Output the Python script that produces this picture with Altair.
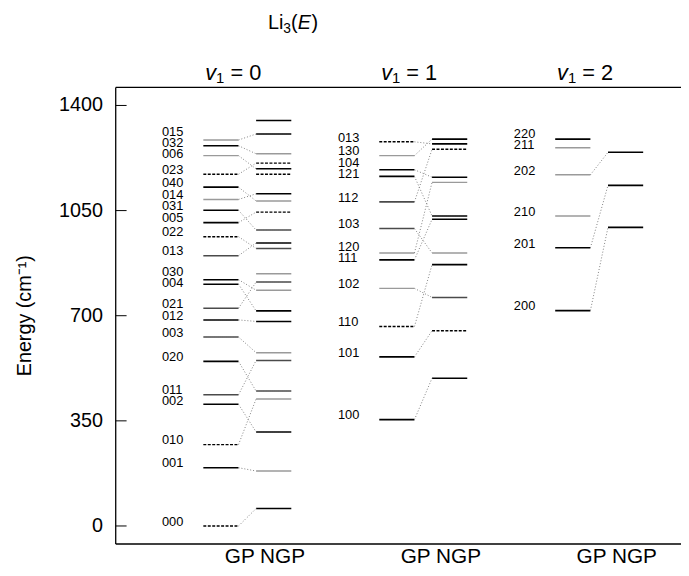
import altair as alt
import pandas as pd

# ---------------- data ----------------
v1_values = [0, 1, 2]

# v1 = 0
gp0_labels = ["000", "001", "010", "002", "011", "020", "003", "012", "021", "004", "030",
              "013", "022", "005", "031", "014", "040", "023", "006", "032", "015"]
gp0_energy = [0, 194, 271, 405, 437, 548, 629, 686, 725, 805, 820,
              900, 963, 1010, 1051, 1087, 1128, 1171, 1233, 1266, 1285]
gp0_class = ["d", "k", "d", "k", "m", "k", "m", "k", "m", "k", "k",
             "m", "d", "k", "k", "g", "k", "d", "g", "k", "g"]
gp0_link = [58, 183, 423, 313, 551, 449, 577, 681, 812, 716, 785,
            942, 924, 1045, 985, 1106, 1082, 1208, 1189, 1239, 1305]
ngp0_energy = [58, 183, 313, 423, 449, 551, 577, 681, 716, 785, 812, 840,
               924, 942, 985, 1045, 1082, 1106, 1171, 1189, 1208, 1239, 1305, 1350]
ngp0_class = ["k", "g", "k", "g", "m", "m", "g", "k", "k", "g", "m", "g",
              "m", "k", "m", "d", "g", "k", "d", "k", "d", "g", "k", "k"]

# v1 = 1
gp1_labels = ["100", "101", "110", "102", "111", "120", "103", "112", "121", "104", "130", "013"]
gp1_energy = [354, 563, 664, 791, 886, 909, 990, 1079, 1164, 1186, 1233, 1279]
gp1_class = ["k", "k", "d", "g", "k", "g", "m", "m", "k", "k", "g", "d"]
gp1_link = [492, 650, 870, 761, 1021, 1144, 909, 1254, 1032, 1161, 1288, 1272]
ngp1_energy = [492, 650, 761, 870, 909, 1021, 1032, 1144, 1161, 1254, 1272, 1288]
ngp1_class = ["k", "d", "m", "k", "g", "k", "k", "g", "k", "d", "k", "k"]

# v1 = 2
gp2_labels = ["200", "201", "210", "202", "211", "220"]
gp2_energy = [717, 926, 1032, 1169, 1259, 1288]
gp2_class = ["k", "k", "g", "g", "g", "k"]
gp2_link = [994, 1134, None, 1244, None, None]
ngp2_energy = [994, 1134, 1244]
ngp2_class = ["k", "k", "k"]

y_ticks = [0, 350, 700, 1050, 1400]
y_title = "Energy (cm⁻¹)"
side_text = "GP NGP"

# ---------------- layout ----------------
FONT = "Liberation Sans"
W, H = 572, 462
X_DOMAIN = [-0.598, 2.615]
Y_DOMAIN = [-60, 1460]
GP_OFF, NGP_OFF, HALF = 0.0, 0.3, 0.1
LABEL_OFF = -0.335
PX_PER_E = H / (Y_DOMAIN[1] - Y_DOMAIN[0])

columns = [
    (0, gp0_labels, gp0_energy, gp0_class, gp0_link, ngp0_energy, ngp0_class),
    (1, gp1_labels, gp1_energy, gp1_class, gp1_link, ngp1_energy, ngp1_class),
    (2, gp2_labels, gp2_energy, gp2_class, gp2_link, ngp2_energy, ngp2_class),
]


def spread(energies, shift_px=4.3, gap_px=11.0):
    """Place labels near their level, pushing apart ones that would overlap."""
    shift = shift_px / PX_PER_E
    gap = gap_px / PX_PER_E
    order = sorted(range(len(energies)), key=lambda i: energies[i])
    desired = [energies[i] + shift for i in order]
    clusters = [[k] for k in range(len(desired))]

    def base(cl):
        return sum(desired[k] - gap * j for j, k in enumerate(cl)) / len(cl)

    changed = True
    while changed:
        changed = False
        for c in range(len(clusters) - 1):
            a, b = clusters[c], clusters[c + 1]
            if base(a) + gap * len(a) > base(b) + 1e-9:
                clusters[c] = a + b
                del clusters[c + 1]
                changed = True
                break
    out = [0.0] * len(energies)
    for cl in clusters:
        b0 = base(cl)
        for j, k in enumerate(cl):
            out[order[k]] = b0 + gap * j
    return out


level_rows, link_rows, label_rows = [], [], []
for col, labs, gpE, gpC, links, ngE, ngC in columns:
    for e, c in zip(gpE, gpC):
        level_rows.append({"xa": col + GP_OFF - HALF, "xb": col + GP_OFF + HALF, "E": e, "cls": c})
    for e, c in zip(ngE, ngC):
        level_rows.append({"xa": col + NGP_OFF - HALF, "xb": col + NGP_OFF + HALF, "E": e, "cls": c})
    for e, n in zip(gpE, links):
        if n is not None:
            link_rows.append({"xa": col + GP_OFF + HALF, "xb": col + NGP_OFF - HALF, "Eg": e, "En": n})
    for lab, ly in zip(labs, spread(gpE)):
        label_rows.append({"x": col + LABEL_OFF, "y": ly, "lab": lab})

levels_df = pd.DataFrame(level_rows)
links_df = pd.DataFrame(link_rows)
labels_df = pd.DataFrame(label_rows)
cols_df = pd.DataFrame({"col": v1_values})
cols_df["xs"] = cols_df["col"] + 0.25
cols_df["xh"] = cols_df["col"] + 0.07
cols_df["eq"] = ["= " + str(v) for v in v1_values]
cols_df["side"] = side_text
ticks_df = pd.DataFrame({"t": y_ticks, "lab": [str(v) for v in y_ticks]})
one = pd.DataFrame({"a": [0]})

xs = alt.Scale(domain=X_DOMAIN, nice=False, zero=False)
ys = alt.Scale(domain=Y_DOMAIN, nice=False, zero=False)
cls_dom = ["k", "m", "g", "d"]

levels = alt.Chart(levels_df).mark_rule().encode(
    x=alt.X("xa:Q", scale=xs, axis=None),
    x2="xb:Q",
    y=alt.Y("E:Q", scale=ys, axis=None),
    color=alt.Color("cls:N", scale=alt.Scale(domain=cls_dom, range=["#000000", "#4a4a4a", "#9a9a9a", "#000000"]), legend=None),
    strokeDash=alt.StrokeDash("cls:N", scale=alt.Scale(domain=cls_dom, range=[[1, 0], [1, 0], [1, 0], [3, 1.5]]), legend=None),
    strokeWidth=alt.StrokeWidth("cls:N", scale=alt.Scale(domain=cls_dom, range=[1.6, 1.4, 1.2, 1.3]), legend=None),
)

links = alt.Chart(links_df).mark_rule(color="#808080", strokeDash=[1, 2], strokeWidth=1).encode(
    x=alt.X("xa:Q", scale=xs, axis=None),
    x2="xb:Q",
    y=alt.Y("Eg:Q", scale=ys, axis=None),
    y2="En:Q",
)

labels = alt.Chart(labels_df).mark_text(align="left", baseline="middle", fontSize=13, font=FONT, color="black").encode(
    x=alt.X("x:Q", scale=xs, axis=None),
    y=alt.Y("y:Q", scale=ys, axis=None),
    text="lab:N",
)

# y axis drawn by hand: inward ticks, labels, domain line, title
inner_ticks = alt.Chart(ticks_df).mark_rule(color="black", strokeWidth=1).encode(
    y=alt.Y("t:Q", scale=ys, axis=None), x=alt.value(0), x2=alt.value(11))
tick_labels = alt.Chart(ticks_df).mark_text(align="right", baseline="middle", fontSize=20, font=FONT,
                                            color="black", dx=-13).encode(
    y=alt.Y("t:Q", scale=ys, axis=None), x=alt.value(0), text="lab:N")
left_line = alt.Chart(one).mark_rule(color="black", strokeWidth=1.3).encode(
    x=alt.value(0), y=alt.value(0), y2=alt.value(H))
y_title_mark = alt.Chart(one).mark_text(text=y_title, angle=270, fontSize=20, font=FONT, color="black",
                                        align="center", baseline="middle").encode(
    x=alt.value(-92), y=alt.value(H / 2))

top_line = alt.Chart(one).mark_rule(color="black", strokeWidth=1.3).encode(
    x=alt.value(0), x2=alt.value(W), y=alt.value(0))
bottom_line = alt.Chart(one).mark_rule(color="black", strokeWidth=1.3).encode(
    x=alt.value(0), x2=alt.value(W), y=alt.value(H))

side_labels = alt.Chart(cols_df).mark_text(align="center", baseline="middle", fontSize=21, font=FONT, color="black").encode(
    x=alt.X("xs:Q", scale=xs, axis=None), y=alt.value(H + 13), text="side:N")

HF = 22
wv, w1, wsp = 0.5 * HF, 0.556 * 15, 0.278 * HF
wtot = wv + w1 + wsp + (0.584 + 0.278 + 0.556) * HF
head_v = alt.Chart(cols_df).mark_text(text="v", fontStyle="italic", fontSize=HF, font=FONT, align="left",
                                      baseline="middle", dx=-wtot / 2, color="black").encode(
    x=alt.X("xh:Q", scale=xs, axis=None), y=alt.value(-15))
head_1 = alt.Chart(cols_df).mark_text(text="1", fontSize=15, font=FONT, align="left",
                                      baseline="middle", dx=-wtot / 2 + wv, color="black").encode(
    x=alt.X("xh:Q", scale=xs, axis=None), y=alt.value(-9))
head_eq = alt.Chart(cols_df).mark_text(fontSize=HF, font=FONT, align="left", baseline="middle",
                                       dx=-wtot / 2 + wv + w1 + wsp, color="black").encode(
    x=alt.X("xh:Q", scale=xs, axis=None), y=alt.value(-15), text="eq:N")

TY = -65
t_li = alt.Chart(one).mark_text(text="Li", fontSize=20, font=FONT, align="left", baseline="middle", color="black").encode(
    x=alt.value(154), y=alt.value(TY))
t_3 = alt.Chart(one).mark_text(text="3", fontSize=14, font=FONT, align="left", baseline="middle", color="black").encode(
    x=alt.value(169.6), y=alt.value(TY + 6))
t_op = alt.Chart(one).mark_text(text="(", fontSize=20, font=FONT, align="left", baseline="middle", color="black").encode(
    x=alt.value(177.4), y=alt.value(TY))
t_e = alt.Chart(one).mark_text(text="E", fontSize=20, font=FONT, fontStyle="italic", align="left", baseline="middle", color="black").encode(
    x=alt.value(184.1), y=alt.value(TY))
t_cp = alt.Chart(one).mark_text(text=")", fontSize=20, font=FONT, align="left", baseline="middle", color="black").encode(
    x=alt.value(198), y=alt.value(TY))

chart = alt.layer(
    levels, links, labels, inner_ticks, tick_labels, left_line, y_title_mark,
    top_line, bottom_line, side_labels,
    head_v, head_1, head_eq, t_li, t_3, t_op, t_e, t_cp,
).properties(
    width=W, height=H,
    autosize=alt.AutoSizeParams(type="none"),
    padding={"left": 109, "top": 77, "right": 0, "bottom": 29},
    background="white",
).configure_view(stroke=None)

chart.save("out.html", embed_options={"renderer": "svg", "actions": False})
